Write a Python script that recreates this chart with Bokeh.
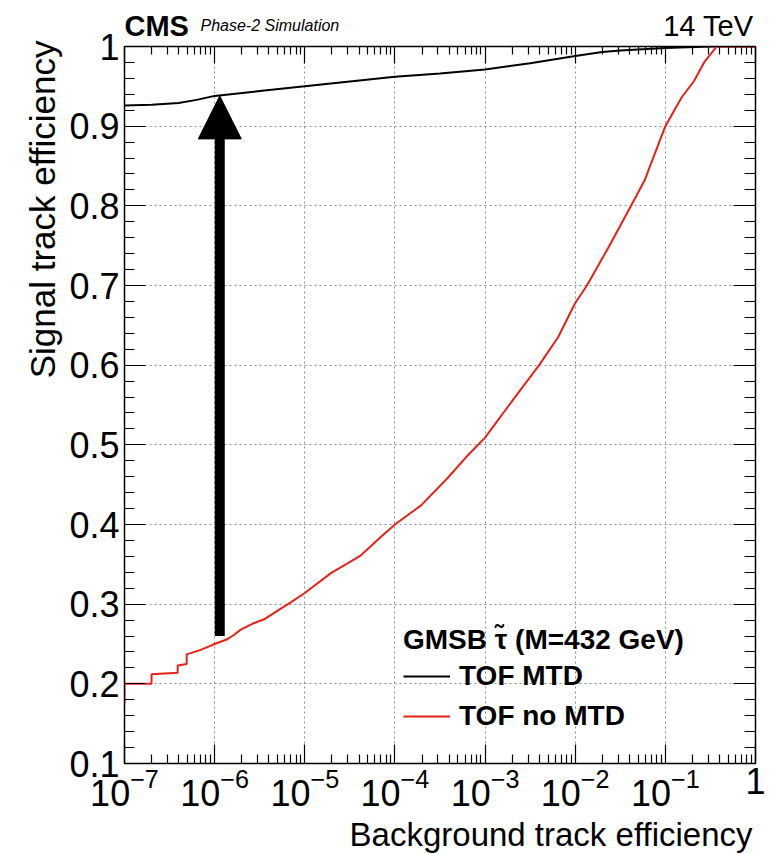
from bokeh.plotting import figure
from bokeh.models import (LogAxis, LinearAxis, FixedTicker, CustomJSTickFormatter, Label, Title,
                          Legend, LegendItem, Arrow, NormalHead, Range1d, LogScale, Grid, GridBox,
                          Column)
from bokeh.embed import file_html
from bokeh.resources import INLINE

# ---------------- data ----------------
# TOF MTD (black): log10(background efficiency), signal efficiency
mtd_log_x = [-7.0, -6.7, -6.4, -6.2, -6.0, -5.5, -5.0, -4.5, -4.0, -3.5, -3.0,
             -2.5, -2.0, -1.7, -1.5, -1.0, -0.5, 0.0]
mtd_eff = [0.926, 0.927, 0.929, 0.933, 0.938, 0.944, 0.950, 0.956, 0.962, 0.966, 0.971,
           0.979, 0.988, 0.993, 0.995, 0.998, 1.0, 1.0]

# TOF no MTD (red)
nomtd_log_x = [-7.0, -7.0, -6.70, -6.70, -6.41, -6.41, -6.31, -6.31, -6.17, -6.08, -6.0,
               -5.86, -5.79, -5.71, -5.57, -5.45, -5.34, -5.16, -5.0, -4.71, -4.38,
               -4.16, -4.0, -3.71, -3.41, -3.19, -3.0, -2.68, -2.4, -2.19, -2.0, -1.87,
               -1.63, -1.38, -1.23, -1.0, -0.82, -0.68, -0.57, -0.43, 0.0]
nomtd_eff = [0.176, 0.200, 0.200, 0.212, 0.214, 0.223, 0.225, 0.237, 0.242, 0.246, 0.250,
             0.256, 0.261, 0.268, 0.276, 0.281, 0.289, 0.302, 0.314, 0.339, 0.361,
             0.384, 0.400, 0.424, 0.459, 0.487, 0.509, 0.558, 0.600, 0.635, 0.678, 0.700,
             0.748, 0.800, 0.832, 0.900, 0.936, 0.957, 0.980, 1.0, 1.0]

series_labels = ["TOF MTD", "TOF no MTD"]
legend_title = "GMSB τ̃ (M=432 GeV)"
x_title = "Background track efficiency"
y_title = "Signal track efficiency"
cms_text = "CMS"
cms_extra = "Phase-2 Simulation"
energy_text = "14 TeV"

x_decades = [-7, -6, -5, -4, -3, -2, -1, 0]
y_major = [0.1, 0.2, 0.3, 0.4, 0.5, 0.6, 0.7, 0.8, 0.9, 1.0]

# arrow annotation: from the no-MTD curve up to the MTD curve
arrow_x = 1.14e-6
arrow_y0 = 0.26
arrow_y1 = 0.938

FONT = "Liberation Sans"
W, H = 775, 854
B_LEFT, B_RIGHT, B_TOP, B_BOTTOM = 124, 20, 46, 91
X_LO, X_HI = 1e-7, 1.0
Y_LO, Y_HI = 0.1, 1.0

mtd_x = [10 ** v for v in mtd_log_x]
nomtd_x = [10 ** v for v in nomtd_log_x]
x_ticks = [10.0 ** d for d in x_decades]
x_minor = [m * 10.0 ** d for d in x_decades[:-1] for m in range(2, 10)]
y_minor = [round(0.1 + 0.02 * i, 2) for i in range(46)]

# ---------- main plot ----------
p = figure(width=W, height=H, x_axis_type=None, y_axis_type=None,
           x_range=Range1d(X_LO, X_HI), y_range=Range1d(Y_LO, Y_HI),
           output_backend="svg", toolbar_location=None,
           min_border_left=B_LEFT, min_border_right=B_RIGHT,
           min_border_top=B_TOP, min_border_bottom=B_BOTTOM)
p.x_scale = LogScale()
p.outline_line_color = "black"
p.outline_line_width = 1.5
p.background_fill_color = "white"
p.border_fill_color = "white"

xt = FixedTicker(ticks=x_ticks, minor_ticks=x_minor)
yt = FixedTicker(ticks=y_major, minor_ticks=y_minor)


def style(ax, major_in, minor_in):
    ax.major_tick_in = major_in
    ax.major_tick_out = 0
    ax.minor_tick_in = minor_in
    ax.minor_tick_out = 0
    ax.axis_line_color = "black"
    ax.major_tick_line_color = "black"
    ax.minor_tick_line_color = "black"
    ax.major_tick_line_width = 1.2
    ax.minor_tick_line_width = 1.2


def blank_axis(ax):
    ax.formatter = CustomJSTickFormatter(code="return ''")
    ax.major_label_standoff = 0
    ax.major_label_text_font_size = "0px"


xb = LogAxis(ticker=xt)
style(xb, 19, 9)
xb.major_label_text_font = FONT
xb.major_label_text_font_size = "36px"
xb.major_label_text_color = "black"
xb.major_label_standoff = 4
xb.major_label_overrides = {1: "1"}
p.add_layout(xb, "below")

xa = LogAxis(ticker=xt)
style(xa, 17, 8)
blank_axis(xa)
p.add_layout(xa, "above")

yl = LinearAxis(ticker=yt)
style(yl, 21, 10)
yl.major_label_text_font = FONT
yl.major_label_text_font_size = "36px"
yl.major_label_text_color = "black"
yl.major_label_standoff = 5
yl.major_label_overrides = {1: "1"}
p.add_layout(yl, "left")

yr = LinearAxis(ticker=yt)
style(yr, 22, 11)
blank_axis(yr)
p.add_layout(yr, "right")

p.add_layout(Title(text=y_title, align="right", vertical_align="bottom", offset=-6, standoff=10,
                   text_font=FONT, text_font_size="35px", text_font_style="normal",
                   text_color="black"), "left")

gx = Grid(dimension=0, ticker=xt, grid_line_color="#8c8c8c", grid_line_dash="2 3", grid_line_width=1)
gy = Grid(dimension=1, ticker=yt, grid_line_color="#8c8c8c", grid_line_dash="2 3", grid_line_width=1)
p.add_layout(gx)
p.add_layout(gy)

r_mtd = p.line(mtd_x, mtd_eff, line_color="black", line_width=2)
r_nomtd = p.line(nomtd_x, nomtd_eff, line_color="#e8211b", line_width=2)

p.add_layout(Arrow(end=NormalHead(size=43, fill_color="black", line_color="black", line_width=1),
                   x_start=arrow_x, y_start=arrow_y0, x_end=arrow_x, y_end=arrow_y1,
                   line_width=10, line_color="black"))

legend = Legend(items=[LegendItem(label=series_labels[0], renderers=[r_mtd]),
                       LegendItem(label=series_labels[1], renderers=[r_nomtd])],
                title=legend_title, location=(279, 27),
                label_text_font=FONT, label_text_font_size="28px", label_text_font_style="bold",
                label_text_color="black",
                title_text_font=FONT, title_text_font_size="28px", title_text_font_style="bold",
                title_text_color="black",
                glyph_width=47, glyph_height=40, label_height=40, label_standoff=9,
                spacing=0, padding=0, margin=0, title_standoff=0,
                border_line_alpha=0, background_fill_alpha=0)
p.add_layout(legend)

# ---------- transparent overlay carrying the texts that sit outside the frame ----------
# its ranges continue the main plot's scales over the whole canvas
fw, fh = W - B_LEFT - B_RIGHT, H - B_TOP - B_BOTTOM
dec_px = fw / 7.0
unit_px = fh / (Y_HI - Y_LO)
ov = figure(width=W, height=H, x_axis_type=None, y_axis_type=None,
            x_range=Range1d(10 ** (-7 - B_LEFT / dec_px), 10 ** (B_RIGHT / dec_px)),
            y_range=Range1d(Y_LO - B_BOTTOM / unit_px, Y_HI + B_TOP / unit_px),
            output_backend="svg", toolbar_location=None,
            min_border_left=0, min_border_right=0, min_border_top=0, min_border_bottom=0)
ov.x_scale = LogScale()
ov.outline_line_color = None
ov.background_fill_color = None
ov.border_fill_color = None
ov.xgrid.visible = False
ov.ygrid.visible = False


def lab(**kw):
    ov.add_layout(Label(text_color="black", text_font=FONT, **kw))


lab(x=X_LO, y=Y_HI, text=cms_text, x_offset=0, y_offset=21, text_font_size="29px",
    text_font_style="bold", text_baseline="alphabetic", text_align="left")
lab(x=X_LO, y=Y_HI, text=cms_extra, x_offset=76, y_offset=21, text_font_size="16px",
    text_font_style="italic", text_baseline="alphabetic", text_align="left")
lab(x=X_HI, y=Y_HI, text=energy_text, x_offset=-2, y_offset=21, text_font_size="29px",
    text_baseline="alphabetic", text_align="right")
lab(x=X_HI, y=Y_LO, text=x_title, x_offset=-3, y_offset=-71, text_font_size="33px",
    text_baseline="alphabetic", text_align="right")

page = GridBox(children=[(p, 0, 0), (Column(children=[ov]), 0, 0)])
open("out.html", "w").write(file_html(page, INLINE))
